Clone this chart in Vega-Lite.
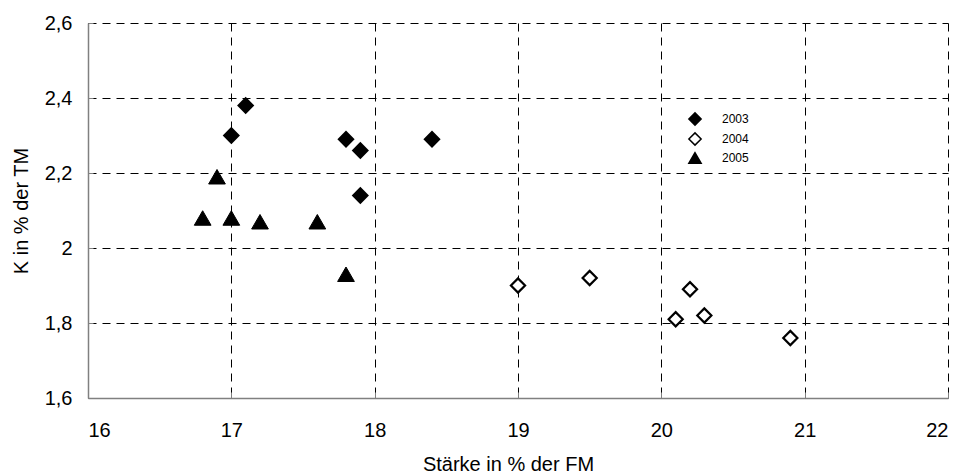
{
  "$schema": "https://vega.github.io/schema/vega-lite/v6.json",
  "width": 860,
  "height": 375,
  "autosize": "none",
  "padding": {"left": 88, "top": 23, "right": 14, "bottom": 77},
  "background": "white",
  "config": {
    "font": "Liberation Sans",
    "view": {"stroke": null},
    "axis": {
      "gridColor": "#000000",
      "gridDash": [8, 6],
      "gridWidth": 1,
      "gridOpacity": 1,
      "domainColor": "#808080",
      "domainWidth": 1.5,
      "tickColor": "#808080",
      "tickWidth": 1,
      "labelFont": "Liberation Sans",
      "labelFontSize": 20,
      "labelColor": "#000000",
      "titleFont": "Liberation Sans",
      "titleFontSize": 20,
      "titleFontWeight": "normal",
      "titleColor": "#000000"
    },
    "legend": {
      "padding": 0
    }
  },
  "data": {
    "values": [
      {"staerke": 17.1, "k": 2.38, "jahr": "2003"},
      {"staerke": 17.0, "k": 2.30, "jahr": "2003"},
      {"staerke": 17.8, "k": 2.29, "jahr": "2003"},
      {"staerke": 17.9, "k": 2.26, "jahr": "2003"},
      {"staerke": 18.4, "k": 2.29, "jahr": "2003"},
      {"staerke": 17.9, "k": 2.14, "jahr": "2003"},
      {"staerke": 19.0, "k": 1.90, "jahr": "2004"},
      {"staerke": 19.5, "k": 1.92, "jahr": "2004"},
      {"staerke": 20.2, "k": 1.89, "jahr": "2004"},
      {"staerke": 20.1, "k": 1.81, "jahr": "2004"},
      {"staerke": 20.3, "k": 1.82, "jahr": "2004"},
      {"staerke": 20.9, "k": 1.76, "jahr": "2004"},
      {"staerke": 16.9, "k": 2.19, "jahr": "2005"},
      {"staerke": 16.8, "k": 2.08, "jahr": "2005"},
      {"staerke": 17.0, "k": 2.08, "jahr": "2005"},
      {"staerke": 17.2, "k": 2.07, "jahr": "2005"},
      {"staerke": 17.6, "k": 2.07, "jahr": "2005"},
      {"staerke": 17.8, "k": 1.93, "jahr": "2005"}
    ]
  },
  "encoding": {
    "x": {
      "field": "staerke",
      "type": "quantitative",
      "scale": {"domain": [16, 22], "nice": false, "zero": false},
      "axis": {
        "title": "Stärke in % der FM",
        "values": [16, 17, 18, 19, 20, 21, 22],
        "tickSize": -6,
        "labelPadding": 28,
        "titlePadding": 14,
        "titleX": 420,
        "labelExpr": "replace(format(datum.value, '.1~f'), '.', ',')"
      }
    },
    "y": {
      "field": "k",
      "type": "quantitative",
      "scale": {"domain": [1.6, 2.6], "nice": false, "zero": false},
      "axis": {
        "title": "K in % der TM",
        "values": [1.6, 1.8, 2.0, 2.2, 2.4, 2.6],
        "tickSize": -5,
        "labelPadding": 21,
        "titlePadding": 13,
        "labelExpr": "replace(format(datum.value, '.1~f'), '.', ',')"
      }
    },
    "shape": {
      "field": "jahr",
      "type": "nominal",
      "scale": {"domain": ["2003", "2004", "2005"], "range": ["diamond", "diamond", "triangle-up"]},
      "legend": {
        "title": null,
        "orient": "none",
        "legendX": 600,
        "legendY": 89,
        "labelFontSize": 12,
        "labelFont": "Liberation Sans",
        "labelColor": "#000000",
        "symbolSize": 150,
        "labelOffset": 20,
        "rowPadding": 0,
        "encode": {
          "symbols": {"update": {"stroke": {"value": "#000000"}, "strokeWidth": {"value": 2}}}
        }
      }
    },
    "fill": {
      "field": "jahr",
      "type": "nominal",
      "scale": {"domain": ["2003", "2004", "2005"], "range": ["#000000", "#ffffff", "#000000"]},
      "legend": {
        "title": null,
        "orient": "none",
        "legendX": 600,
        "legendY": 89,
        "labelFontSize": 12,
        "labelFont": "Liberation Sans",
        "labelColor": "#000000",
        "symbolSize": 150,
        "labelOffset": 20,
        "rowPadding": 0,
        "encode": {
          "symbols": {"update": {"stroke": {"value": "#000000"}, "strokeWidth": {"value": 2}}}
        }
      }
    }
  },
  "layer": [
    {
      "transform": [{"filter": "datum.jahr != '2005'"}],
      "mark": {"type": "point", "filled": false, "stroke": "#000000", "strokeWidth": 2.2, "opacity": 1, "size": 200}
    },
    {
      "transform": [{"filter": "datum.jahr == '2005'"}],
      "mark": {"type": "point", "filled": false, "stroke": "#000000", "strokeWidth": 1, "opacity": 1, "size": 280}
    }
  ]
}
